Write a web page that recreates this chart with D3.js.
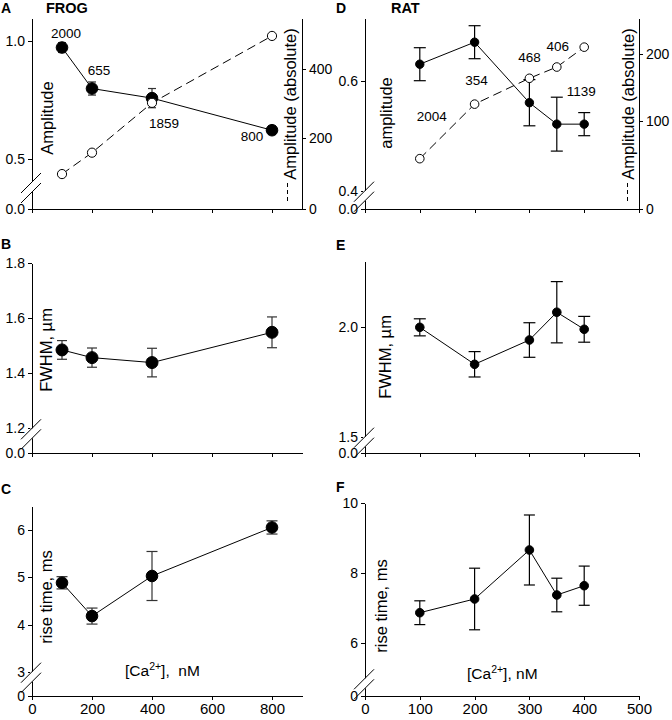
<!DOCTYPE html>
<html>
<head>
<meta charset="utf-8">
<script src="https://cdn.jsdelivr.net/npm/d3@7"></script>
<style>
body { margin: 0; background: #fff; }
svg text { font-family: "Liberation Sans", Arial, sans-serif; fill: #000; }
.axis path, .axis line { stroke: #000; stroke-width: 1; shape-rendering: crispEdges; }
.axis text { font-size: 14px; }
.xaxis text { font-size: 15px; }
.ylab { font-size: 16.5px; }
.letter { font-size: 14px; font-weight: bold; }
.species { font-size: 14.5px; font-weight: bold; }
.nlab { font-size: 13.5px; }
</style>
</head>
<body>
<script>
// ---- data ----
var frogCa = [100, 200, 400, 800];
var frogAmp = [0.974, 0.799, 0.758, 0.621];
var frogAmpErr = [0.021, 0.028, 0.041, 0.018];
var frogAmpAbs = [98, 158, 301, 495];
var frogN = ["2000", "655", "1859", "800"];
var frogFwhm = [1.485, 1.457, 1.439, 1.549];
var frogFwhmErr = [0.034, 0.035, 0.052, 0.056];
var frogRise = [4.886, 4.18, 5.03, 6.06];
var frogRiseErr = [0.13, 0.17, 0.52, 0.14];

var ratCa = [100, 200, 300, 350, 400];
var ratAmp = [0.630, 0.670, 0.560, 0.521, 0.521];
var ratAmpErr = [0.030, 0.030, 0.042, 0.049, 0.021];
var ratAmpAbs = [57, 125, 164, 181, 211];
var ratN = ["2004", "354", "468", "406", "1139"];
var ratFwhm = [2.0, 1.831, 1.942, 2.069, 1.991];
var ratFwhmErr = [0.039, 0.058, 0.079, 0.14, 0.059];
var ratRise = [6.874, 7.266, 8.666, 7.38, 7.646];
var ratRiseErr = [0.34, 0.88, 1.0, 0.48, 0.56];

var frogXTicks = [0, 200, 400, 600, 800];
var ratXTicks = [0, 100, 200, 300, 400, 500];

// label offsets (px) relative to their points
var frogNdx = [4, 7, 12, -20], frogNdy = [-10, -14, 30, 11];
var ratNdx = [12, 2, 0, 1, -3], ratNdy = [-38, -19, -16, -16, 49];

var svg = d3.select("body").append("svg")
    .attr("width", 672)
    .attr("height", 720);

// x scales
var xFrogA = d3.scaleLinear().domain([0, 900]).range([32, 302]);
var xRat = d3.scaleLinear().domain([0, 500]).range([365, 639]);

// draws axes with a broken left axis
function axes(o) {
    var g = svg.append("g");
    g.append("g")
        .attr("class", "axis xaxis")
        .attr("transform", "translate(0," + o.bottom + ")")
        .call(d3.axisBottom(o.x).tickValues(o.xTicks).tickSize(4).tickSizeOuter(0)
            .tickFormat(o.xLabels ? d3.format("d") : function() { return ""; }));
    var ax = o.x.range()[0];
    g.append("g")
        .attr("class", "axis")
        .attr("transform", "translate(" + ax + ",0)")
        .call(d3.axisLeft(o.y).tickValues(o.yTicks).tickSize(4).tickSizeOuter(0).tickFormat(o.yFmt));
    // break marks
    var yb = o.y(o.brk);
    g.append("rect")
        .attr("x", ax - 2).attr("y", yb).attr("width", 4).attr("height", 10)
        .attr("fill", "#fff");
    [0, 10].forEach(function(d) {
        g.append("line")
            .attr("x1", ax - 11).attr("y1", yb + d + 11)
            .attr("x2", ax + 9).attr("y2", yb + d - 9)
            .attr("stroke", "#000").attr("stroke-width", 1);
    });
    return g;
}

function series(g, x, y, xs, ys, errs, r, cap, open, col) {
    var pts = xs.map(function(d, i) { return [x(d), y(ys[i])]; });
    g.append("path")
        .attr("d", d3.line()(pts))
        .attr("fill", "none")
        .attr("stroke", "#000")
        .attr("stroke-width", 1)
        .attr("stroke-dasharray", open ? "9,5" : null);
    if (errs) {
        xs.forEach(function(d, i) {
            var cx = x(d), y1 = y(ys[i] - errs[i]), y2 = y(ys[i] + errs[i]);
            var e = g.append("g").attr("stroke", col).attr("stroke-width", 1.2);
            e.append("line").attr("x1", cx).attr("x2", cx).attr("y1", y1).attr("y2", y2);
            e.append("line").attr("x1", cx - cap).attr("x2", cx + cap).attr("y1", y1).attr("y2", y1);
            e.append("line").attr("x1", cx - cap).attr("x2", cx + cap).attr("y1", y2).attr("y2", y2);
        });
    }
    g.selectAll(null)
        .data(xs)
        .enter().append("circle")
        .attr("cx", function(d) { return x(d); })
        .attr("cy", function(d, i) { return y(ys[i]); })
        .attr("r", r)
        .attr("fill", open ? "#fff" : "#000")
        .attr("stroke", "#000")
        .attr("stroke-width", 1);
}

function rotLabel(x, y, txt) {
    svg.append("text")
        .attr("class", "ylab")
        .attr("transform", "translate(" + x + "," + y + ") rotate(-90)")
        .attr("text-anchor", "middle")
        .text(txt);
}

function rightLabel(x, y, dashX) {
    svg.append("line")
        .attr("x1", dashX).attr("x2", dashX)
        .attr("y1", y + 97).attr("y2", y + 79)
        .attr("stroke", "#000").attr("stroke-dasharray", "4,3");
    svg.append("text")
        .attr("class", "ylab")
        .attr("transform", "translate(" + x + "," + y + ") rotate(-90)")
        .attr("text-anchor", "middle")
        .text("Amplitude (absolute)");
}

function caLabel(x, y, sp) {
    var t = svg.append("text").attr("x", x).attr("y", y).style("font-size", "15.5px")
        .attr("xml:space", "preserve");
    t.append("tspan").text("[Ca");
    t.append("tspan").attr("dy", -6).style("font-size", "10.5px").text("2+");
    t.append("tspan").attr("dy", 6).text("]," + sp + "nM");
}

function letter(x, y, l, cls) {
    svg.append("text").attr("class", cls || "letter").attr("x", x).attr("y", y).text(l);
}

// ---- A: frog amplitude ----
var yA = d3.scaleLinear().domain([0, 0.4, 1.1]).range([209, 182, 18]);
var yA2 = d3.scaleLinear().domain([0, 200, 547]).range([209, 137.7, 18]);
var gA = axes({x: xFrogA, y: yA, bottom: 209, xTicks: frogXTicks, xLabels: false,
    yTicks: [0, 0.5, 1.0], yFmt: d3.format(".1f"), brk: 0.4});
gA.append("g")
    .attr("class", "axis")
    .attr("transform", "translate(302,0)")
    .call(d3.axisRight(yA2).tickValues([0, 200, 400]).tickSize(4).tickSizeOuter(0));
series(gA, xFrogA, yA, frogCa, frogAmp, frogAmpErr, 5.8, 4, false, "#333");
series(gA, xFrogA, yA2, frogCa, frogAmpAbs, null, 4.6, 0, true, "#000");
frogN.forEach(function(d, i) {
    gA.append("text").attr("class", "nlab").attr("text-anchor", "middle")
        .attr("x", xFrogA(frogCa[i]) + frogNdx[i])
        .attr("y", yA(frogAmp[i]) + frogNdy[i])
        .text(d);
});
rotLabel(53, 118, "Amplitude");
rightLabel(296, 104, 287.5);
letter(1, 13, "A");
letter(46, 13, "FROG", "species");

// ---- D: rat amplitude ----
var yD = d3.scaleLinear().domain([0, 0.4, 0.714]).range([209, 190.7, 18]);
var yD2 = d3.scaleLinear().domain([0, 100, 255]).range([209, 120.7, 18]);
var gD = axes({x: xRat, y: yD, bottom: 209, xTicks: ratXTicks, xLabels: false,
    yTicks: [0, 0.4, 0.6], yFmt: d3.format(".1f"), brk: 0.4});
gD.append("g")
    .attr("class", "axis")
    .attr("transform", "translate(639,0)")
    .call(d3.axisRight(yD2).tickValues([0, 100, 200]).tickSize(4).tickSizeOuter(0));
series(gD, xRat, yD, ratCa, ratAmp, ratAmpErr, 4.2, 6, false, "#000");
series(gD, xRat, yD2, ratCa, ratAmpAbs, null, 4.3, 0, true, "#000");
ratN.forEach(function(d, i) {
    gD.append("text").attr("class", "nlab").attr("text-anchor", "middle")
        .attr("x", xRat(ratCa[i]) + ratNdx[i])
        .attr("y", yD2(ratAmpAbs[i]) + ratNdy[i])
        .text(d);
});
rotLabel(392, 113, "amplitude");
rightLabel(634, 104, 627.5);
letter(336, 13, "D");
letter(391, 13, "RAT", "species");

// ---- B: frog FWHM ----
var yB = d3.scaleLinear().domain([0, 1.2, 1.8]).range([453, 428.3, 263.3]);
var gB = axes({x: xFrogA, y: yB, bottom: 453, xTicks: frogXTicks, xLabels: false,
    yTicks: [0, 1.2, 1.4, 1.6, 1.8], yFmt: d3.format(".1f"), brk: 1.2});
series(gB, xFrogA, yB, frogCa, frogFwhm, frogFwhmErr, 6, 5, false, "#333");
rotLabel(51.5, 350, "FWHM, \u00b5m");
letter(1, 249, "B");

// ---- E: rat FWHM ----
var yE = d3.scaleLinear().domain([0, 1.5, 2.3]).range([453, 436.7, 261.7]);
var gE = axes({x: xRat, y: yE, bottom: 453, xTicks: ratXTicks, xLabels: false,
    yTicks: [0, 1.5, 2.0], yFmt: d3.format(".1f"), brk: 1.5});
series(gE, xRat, yE, ratCa, ratFwhm, ratFwhmErr, 4.3, 6, false, "#000");
rotLabel(391, 357, "FWHM, \u00b5m");
letter(336, 250, "E");

// ---- C: frog rise time ----
var yC = d3.scaleLinear().domain([0, 3, 6.5]).range([696, 671.7, 506.7]);
var gC = axes({x: xFrogA, y: yC, bottom: 696, xTicks: frogXTicks, xLabels: true,
    yTicks: [0, 3, 4, 5, 6], yFmt: d3.format("d"), brk: 3});
series(gC, xFrogA, yC, frogCa, frogRise, frogRiseErr, 5.8, 5.5, false, "#333");
rotLabel(51.5, 597, "rise time, ms");
caLabel(125, 676, "  ");
letter(1, 494, "C");

// ---- F: rat rise time ----
var yF = d3.scaleLinear().domain([0, 5, 10]).range([696, 678.3, 503.3]);
var gF = axes({x: xRat, y: yF, bottom: 696, xTicks: ratXTicks, xLabels: true,
    yTicks: [0, 6, 8, 10], yFmt: d3.format("d"), brk: 5});
series(gF, xRat, yF, ratCa, ratRise, ratRiseErr, 4.3, 5.5, false, "#000");
rotLabel(386.5, 606, "rise time, ms");
caLabel(467, 679, " ");
letter(336, 492, "F");
</script>
</body>
</html>
